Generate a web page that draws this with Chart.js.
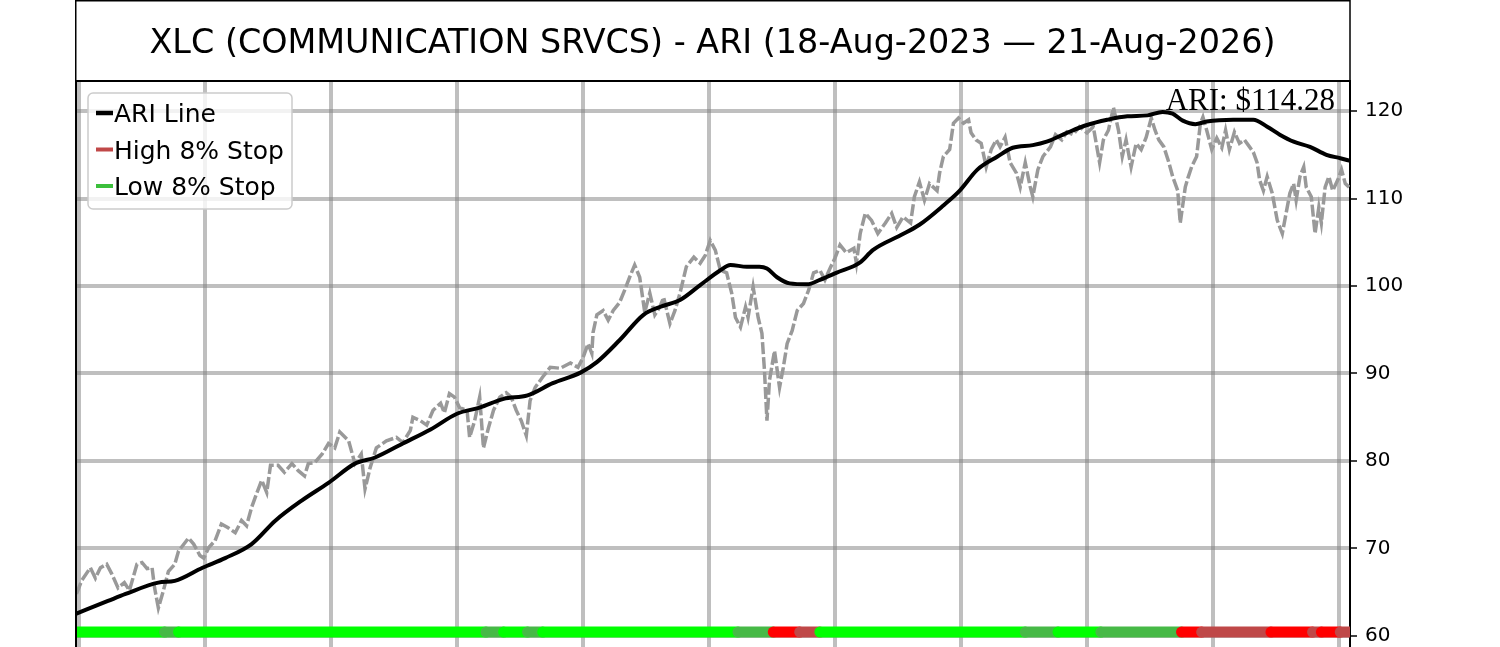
<!DOCTYPE html>
<html>
<head>
<meta charset="utf-8">
<title>XLC ARI</title>
<script src="https://cdn.jsdelivr.net/npm/chart.js@4.4.1/dist/chart.umd.min.js"></script>
<style>
    html, body { margin: 0; padding: 0; background: #ffffff; overflow: hidden; }
    #wrap { position: relative; width: 1500px; height: 647px; }
</style>
</head>
<body>
<div id="wrap"><canvas id="ariChart" width="1500" height="647"></canvas></div>
<script>
// --- DATA ---
const titleText = "XLC (COMMUNICATION SRVCS) - ARI (18-Aug-2023 — 21-Aug-2026)";
const ariLabel = "ARI: $114.28";
const legendLabels = ["ARI Line", "High 8% Stop", "Low 8% Stop"];

const yTicks = [60, 70, 80, 90, 100, 110, 120];
const xGrid = [0, 100, 200, 300, 400, 500, 600, 700, 800, 900, 1000];

// trading-day index and close price
const priceDays = [
    -2, 2, 9, 13, 17, 22, 26, 31, 36, 40,
    46, 50, 54, 58, 60, 63, 67, 71, 76, 79,
    87, 91, 96, 99, 103, 108, 113, 118, 124, 129,
    133, 137, 141, 145, 149, 152, 158, 163, 169, 174,
    179, 182, 187, 193, 198, 203, 207, 214, 219, 224,
    227, 231, 236, 244, 252, 257, 263, 265, 271, 276,
    281, 287, 290, 294, 298, 302, 308, 310, 314, 318,
    321, 325, 329, 334, 339, 343, 347, 351, 355, 358,
    362, 368, 374, 382, 390, 396, 400, 404, 407, 408,
    411, 416, 420, 424, 429, 433, 437, 441, 445, 449,
    453, 457, 461, 464, 469, 473, 477, 482, 488, 493,
    497, 501, 505, 509, 514, 518, 521, 525, 529, 531,
    535, 539, 542, 544, 546, 548, 552, 556, 559, 562,
    566, 570, 575, 579, 583, 588, 592, 596, 600, 604,
    609, 615, 617, 620, 624, 629, 634, 640, 645, 649,
    654, 660, 663, 667, 671, 675, 681, 683, 686, 691,
    694, 698, 702, 706, 708, 712, 716, 720, 724, 728,
    731, 735, 739, 744, 747, 751, 755, 757, 761, 765,
    771, 775, 780, 784, 789, 794, 800, 805, 810, 813,
    817, 821, 825, 828, 831, 835, 839, 843, 847, 851,
    854, 857, 861, 865, 868, 872, 874, 878, 880, 883,
    887, 890, 892, 895, 899, 903, 907, 910, 913, 917,
    921, 925, 929, 932, 935, 937, 940, 943, 947, 951,
    955, 958, 961, 964, 966, 969, 972, 974, 978, 981,
    984, 986, 989, 992, 995, 999, 1002, 1005, 1008
];
const priceValues = [
    64.8, 66.3, 67.8, 66.6, 67.8, 68.2, 67.1, 65.5, 66.1, 65.2,
    68.2, 68.4, 67.7, 67.8, 65.5, 63.2, 65.2, 67.4, 68.2, 69.7,
    71.2, 70.5, 69.2, 68.9, 70.1, 70.9, 72.8, 72.4, 71.8, 73.2,
    72.6, 74.7, 76.3, 77.8, 76.4, 79.5, 79.5, 78.7, 79.7, 78.9,
    78.3, 79.7, 79.8, 80.8, 82.0, 81.5, 83.3, 82.3, 79.7, 80.8,
    76.8, 79.2, 81.5, 82.3, 82.7, 82.1, 83.5, 85.0, 84.6, 84.1,
    85.8, 86.6, 85.5, 87.7, 87.3, 86.1, 85.8, 82.7, 84.6, 87.3,
    81.5, 83.8, 85.8, 87.3, 87.8, 87.3, 85.8, 84.6, 82.9, 86.9,
    88.4, 89.6, 90.7, 90.6, 91.2, 90.7, 91.8, 93.4, 92.3, 94.7,
    96.7, 97.2, 96.1, 97.2, 98.1, 99.5, 101.0, 102.4, 101.0, 97.0,
    99.2, 96.7, 97.6, 98.7, 95.7, 97.2, 99.2, 102.2, 103.3, 102.6,
    103.5, 105.2, 104.1, 101.8, 101.5, 99.2, 96.4, 95.3, 97.6, 96.4,
    99.9, 96.4, 94.6, 90.4, 84.6, 89.2, 92.6, 88.4, 90.7, 93.4,
    94.9, 97.2, 98.0, 99.5, 101.5, 101.8, 100.7, 102.0, 103.2, 104.7,
    103.8, 104.3, 102.6, 106.0, 108.3, 107.5, 106.0, 107.2, 108.3, 106.7,
    107.9, 107.2, 110.2, 111.9, 109.8, 111.7, 110.9, 112.9, 114.8, 115.6,
    118.6, 119.2, 118.6, 119.0, 117.5, 116.7, 116.3, 113.6, 115.6, 116.7,
    115.9, 117.0, 114.1, 112.9, 111.3, 114.1, 111.3, 110.2, 113.3, 114.8,
    115.9, 117.3, 116.7, 117.6, 117.3, 118.2, 117.5, 118.2, 114.1, 116.7,
    117.8, 120.4, 117.8, 114.8, 116.7, 113.6, 116.3, 115.6, 117.0, 119.2,
    117.8, 116.7, 115.9, 114.1, 112.5, 110.9, 107.2, 111.3, 112.3, 113.6,
    114.8, 118.6, 119.3, 117.8, 115.6, 116.9, 115.8, 117.8, 115.6, 117.6,
    116.3, 116.7, 115.9, 115.3, 114.1, 112.1, 110.9, 112.5, 110.6, 107.5,
    106.0, 108.3, 110.6, 111.7, 109.8, 112.5, 113.6, 111.3, 110.2, 106.0,
    109.0, 107.2, 111.3, 112.5, 110.9, 112.1, 113.3, 111.7, 111.3
];

// smoothed ARI line
const ariDays = [
    -3, 23, 37, 63, 76, 98, 116, 137, 156, 177,
    198, 219, 235, 257, 279, 300, 318, 337, 356, 376,
    398, 411, 429, 448, 461, 477, 493, 509, 517, 530,
    540, 546, 554, 564, 578, 588, 601, 620, 630, 652,
    667, 686, 699, 713, 729, 741, 757, 768, 784, 800,
    816, 832, 848, 860, 868, 876, 886, 895, 916, 932,
    943, 953, 964, 977, 990, 1001, 1009
];
const ariValues = [
    62.5, 64.0, 64.8, 66.1, 66.3, 67.8, 68.9, 70.5, 73.2, 75.5,
    77.5, 79.7, 80.4, 82.0, 83.6, 85.4, 86.1, 87.1, 87.5, 88.9,
    90.1, 91.3, 93.8, 96.7, 97.6, 98.4, 100.1, 101.8, 102.4, 102.2,
    102.2, 102.0, 101.0, 100.3, 100.2, 100.7, 101.5, 102.7, 104.1, 105.8,
    107.0, 109.2, 110.9, 113.3, 114.8, 115.8, 116.1, 116.5, 117.5, 118.4,
    119.0, 119.4, 119.5, 119.9, 119.7, 118.9, 118.5, 118.8, 119.0, 119.0,
    118.2, 117.3, 116.5, 115.9, 115.0, 114.6, 114.3
];

// stop band along the bottom: start day of each run and its state
const stopDays = [-3, 68, 79, 323, 337, 356, 368, 523, 551, 572, 588, 751, 777, 811, 875, 891, 946, 979, 986, 1001, 1012];
const stopState = ["low", "lowFaded", "low", "lowFaded", "low", "lowFaded", "low", "lowFaded", "high", "highFaded",
                   "low", "lowFaded", "low", "lowFaded", "high", "highFaded", "high", "highFaded", "high", "highFaded", "highFaded"];
const stopLevel = 60.45;

// --- STYLES ---
const stopColors = { low: "#00ff00", lowFaded: "#46b946", high: "#ff0000", highFaded: "#bf4848" };
const legendColors = ["#000000", "#c04848", "#3cbf3c"];
const gridColor = "rgba(128,128,128,0.5)";

const toPoints = (xs, ys) => xs.map((x, i) => ({ x: x, y: ys[i] }));

const framePlugin = {
    id: "frame",
    afterDatasetsDraw(chart) {
        const { ctx, chartArea } = chart;
        ctx.save();
        // ARI readout
        ctx.fillStyle = "#000";
        ctx.font = '31px "Liberation Serif", "Times New Roman", serif';
        ctx.textAlign = "right";
        ctx.textBaseline = "alphabetic";
        ctx.fillText(ariLabel, chartArea.right - 15, chartArea.top + 29);

        // legend
        const lx = chartArea.left + 13, ly = chartArea.top + 12, lw = 204, lh = 116;
        ctx.beginPath();
        ctx.roundRect(lx, ly, lw, lh, 5);
        ctx.fillStyle = "rgba(255,255,255,0.8)";
        ctx.fill();
        ctx.lineWidth = 1.5;
        ctx.strokeStyle = "#cccccc";
        ctx.stroke();
        ctx.font = '25px "DejaVu Sans", sans-serif';
        ctx.textAlign = "left";
        legendLabels.forEach((label, i) => {
            const y = ly + 20 + i * 36.5;
            ctx.beginPath();
            ctx.moveTo(lx + 8, y);
            ctx.lineTo(lx + 25, y);
            ctx.lineWidth = i === 0 ? 4.5 : 4;
            ctx.strokeStyle = legendColors[i];
            ctx.stroke();
            ctx.fillStyle = "#000";
            ctx.fillText(label, lx + 26, y + 9);
        });
        ctx.restore();
    },
    afterDraw(chart) {
        const { ctx, chartArea } = chart;
        ctx.save();
        ctx.strokeStyle = "#000";
        // title box
        ctx.lineWidth = 1.5;
        ctx.strokeRect(chartArea.left + 0.75, 0.75, chartArea.right - chartArea.left - 0.75, chartArea.top - 0.75);
        // left spine and top of plot
        ctx.lineWidth = 2;
        ctx.beginPath();
        ctx.moveTo(chartArea.left + 1, chartArea.top);
        ctx.lineTo(chartArea.left + 1, chartArea.bottom);
        ctx.moveTo(chartArea.left, chartArea.top);
        ctx.lineTo(chartArea.right, chartArea.top);
        ctx.stroke();
        // title
        ctx.fillStyle = "#000";
        ctx.font = '33.4px "DejaVu Sans", sans-serif';
        ctx.textAlign = "center";
        ctx.textBaseline = "alphabetic";
        ctx.fillText(titleText, (chartArea.left + chartArea.right) / 2, 53);
        ctx.restore();
    }
};

document.addEventListener("DOMContentLoaded", () => {
    const canvas = document.getElementById("ariChart");
    new Chart(canvas, {
        type: "line",
        data: {
            datasets: [
                {
                    label: "Stop band",
                    data: stopDays.map(d => ({ x: d, y: stopLevel })),
                    borderWidth: 11,
                    borderCapStyle: "round",
                    borderColor: stopColors.low,
                    pointRadius: 0,
                    segment: {
                        borderColor: c => stopColors[stopState[c.p0DataIndex]]
                    }
                },
                {
                    label: "ARI Line",
                    data: toPoints(ariDays, ariValues),
                    borderColor: "#000000",
                    borderWidth: 4,
                    pointRadius: 0,
                    cubicInterpolationMode: "monotone"
                },
                {
                    label: "Price",
                    data: toPoints(priceDays, priceValues),
                    borderColor: "#999999",
                    borderWidth: 3.5,
                    borderDash: [12, 3],
                    pointRadius: 0,
                    tension: 0
                }
            ]
        },
        options: {
            responsive: false,
            animation: false,
            layout: { autoPadding: false, padding: { left: 75, top: 81, right: 0, bottom: 0 } },
            plugins: {
                legend: { display: false },
                title: { display: false },
                tooltip: { enabled: false }
            },
            scales: {
                x: {
                    type: "linear",
                    min: -3.17,
                    max: 1008.73,
                    afterBuildTicks: scale => { scale.ticks = xGrid.map(v => ({ value: v })); },
                    afterFit: scale => {
                        scale.height = 0;
                        scale.paddingLeft = scale.paddingRight = 0;
                    },
                    ticks: { display: false },
                    grid: { color: gridColor, lineWidth: 4, drawTicks: false },
                    border: { display: false }
                },
                y: {
                    position: "right",
                    min: 58.74,
                    max: 123.43,
                    afterBuildTicks: scale => { scale.ticks = yTicks.map(v => ({ value: v })); },
                    afterFit: scale => {
                        scale.width = 150;
                        scale.paddingTop = scale.paddingBottom = 0;
                    },
                    ticks: {
                        color: "#000",
                        font: { family: "DejaVu Sans", size: 20 },
                        padding: 8
                    },
                    grid: {
                        color: gridColor,
                        lineWidth: 4,
                        tickLength: 7,
                        tickColor: "#000",
                        tickWidth: 1.5
                    },
                    border: { color: "#000", width: 2 }
                }
            }
        },
        plugins: [framePlugin]
    });
});
</script>
</body>
</html>
